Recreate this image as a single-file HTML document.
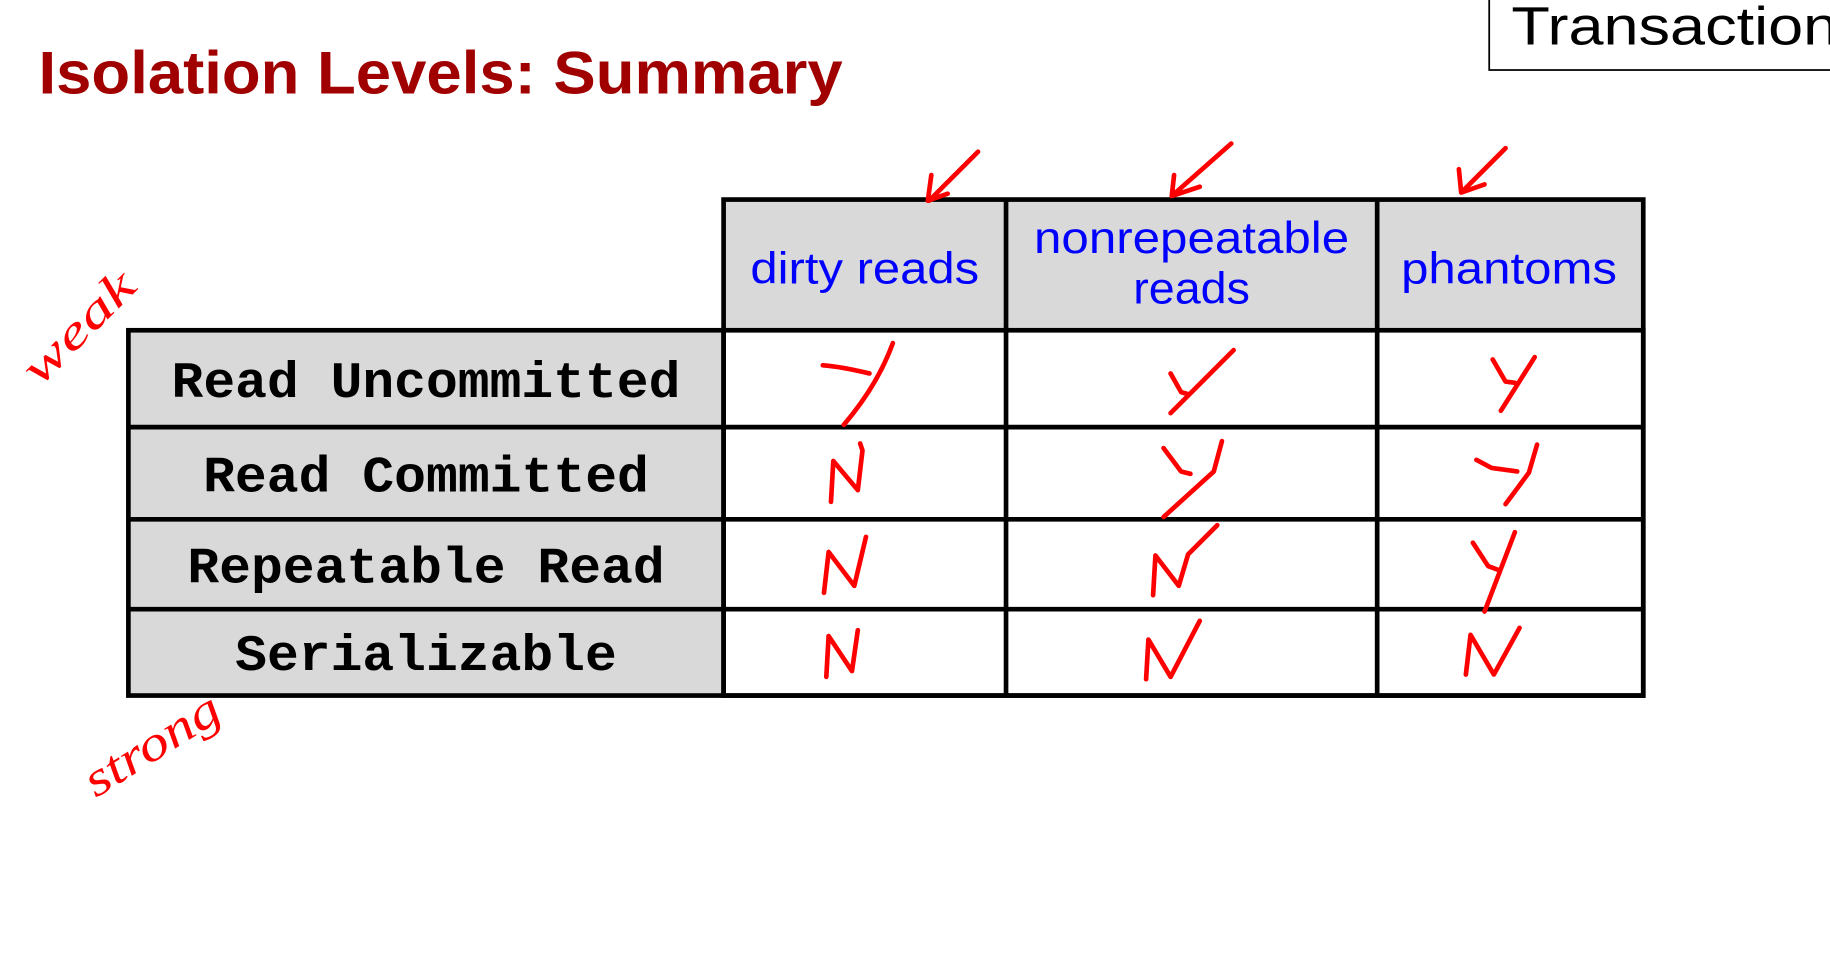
<!DOCTYPE html>
<html><head><meta charset="utf-8"><style>
html,body{margin:0;padding:0;background:#fff;}
svg{display:block;}
</style></head><body>
<svg width="1830" height="967" viewBox="0 0 1568 828.6" preserveAspectRatio="none" xmlns="http://www.w3.org/2000/svg">
<rect x="0" y="0" width="1568" height="829" fill="#fff"/>
<text x="33" y="80" font-family="Liberation Sans, sans-serif" font-weight="bold" font-size="52" fill="#a00000" textLength="689" lengthAdjust="spacingAndGlyphs">Isolation Levels: Summary</text>
<rect x="1276" y="-4" width="300" height="64" fill="#fff" stroke="#000" stroke-width="1.5"/>
<text x="1295" y="38" font-family="Liberation Sans, sans-serif" font-size="46" fill="#000" textLength="280" lengthAdjust="spacingAndGlyphs">Transaction</text>
<rect x="620" y="171" width="788" height="112" fill="#d9d9d9"/>
<rect x="110" y="283" width="510" height="313" fill="#d9d9d9"/>
<rect x="620" y="283" width="788" height="313" fill="#fff"/>
<g stroke="#000" stroke-width="4" fill="none">
<rect x="620" y="171" width="788" height="425"/>
<rect x="110" y="283" width="1298" height="313"/>
<line x1="862" y1="171" x2="862" y2="596"/>
<line x1="1180" y1="171" x2="1180" y2="596"/>
<line x1="620" y1="283" x2="620" y2="596"/>
<line x1="110" y1="366" x2="1408" y2="366"/>
<line x1="110" y1="445" x2="1408" y2="445"/>
<line x1="110" y1="522" x2="1408" y2="522"/>
</g>
<g font-family="Liberation Sans, sans-serif" font-size="38" fill="#0000ff" text-anchor="middle">
<text x="741" y="243" textLength="196" lengthAdjust="spacingAndGlyphs">dirty reads</text>
<text x="1021" y="217" textLength="270" lengthAdjust="spacingAndGlyphs">nonrepeatable</text>
<text x="1021" y="260" textLength="100" lengthAdjust="spacingAndGlyphs">reads</text>
<text x="1293" y="243" textLength="185" lengthAdjust="spacingAndGlyphs">phantoms</text>
</g>
<g font-family="Liberation Mono, monospace" font-weight="bold" font-size="44" fill="#000" text-anchor="middle">
<text x="365" y="340" textLength="436" lengthAdjust="spacingAndGlyphs">Read Uncommitted</text>
<text x="365" y="421" textLength="382" lengthAdjust="spacingAndGlyphs">Read Committed</text>
<text x="365" y="499" textLength="409" lengthAdjust="spacingAndGlyphs">Repeatable Read</text>
<text x="365" y="574" textLength="327" lengthAdjust="spacingAndGlyphs">Serializable</text>
</g>
<g stroke="#ff0000" stroke-width="4" fill="none" stroke-linecap="round" stroke-linejoin="round">
<path d="M838 130 L796 172 M798 150 L795 172 L812 166"/>
<path d="M1055 123 L1004 168 M1006 150 L1004 168 L1028 160"/>
<path d="M1290 127 L1252 165 M1250 145 L1252 165 L1272 158"/>
<path d="M705 313 Q720 314 745 320 M765 294 Q752 330 723 364"/>
<path d="M1003 320 L1012 336 L1019 338 M1057 300 L1003 354"/>
<path d="M1279 308 L1290 327 L1298 328 M1315 306 L1286 352"/>
<path d="M712 430 L714 395 L735 420 L739 386 L737 380"/>
<path d="M997 384 L1012 404 L1020 406 M1047 378 L1040 404 L997 443"/>
<path d="M1265 394 L1278 401 L1300 404 M1317 381 L1310 405 L1290 432"/>
<path d="M706 508 L710 473 L732 502 L742 460"/>
<path d="M988 510 L990 476 L1010 502 L1018 475 L1043 450"/>
<path d="M1262 465 L1275 485 L1283 488 M1298 456 L1272 524"/>
<path d="M708 580 L710 545 L730 575 L735 540"/>
<path d="M982 582 L984 548 L1003 580 L1028 532"/>
<path d="M1256 578 L1260 544 L1280 578 L1302 538"/>
</g>
<text x="0" y="0" transform="translate(34,332) rotate(-45)" font-family="Liberation Serif, serif" font-style="italic" font-size="40" fill="#ff0000" textLength="120" lengthAdjust="spacingAndGlyphs">weak</text>
<text x="0" y="0" transform="translate(82,684) rotate(-32)" font-family="Liberation Serif, serif" font-style="italic" font-size="42" fill="#ff0000" textLength="130" lengthAdjust="spacingAndGlyphs">strong</text>
</svg>
</body></html>
